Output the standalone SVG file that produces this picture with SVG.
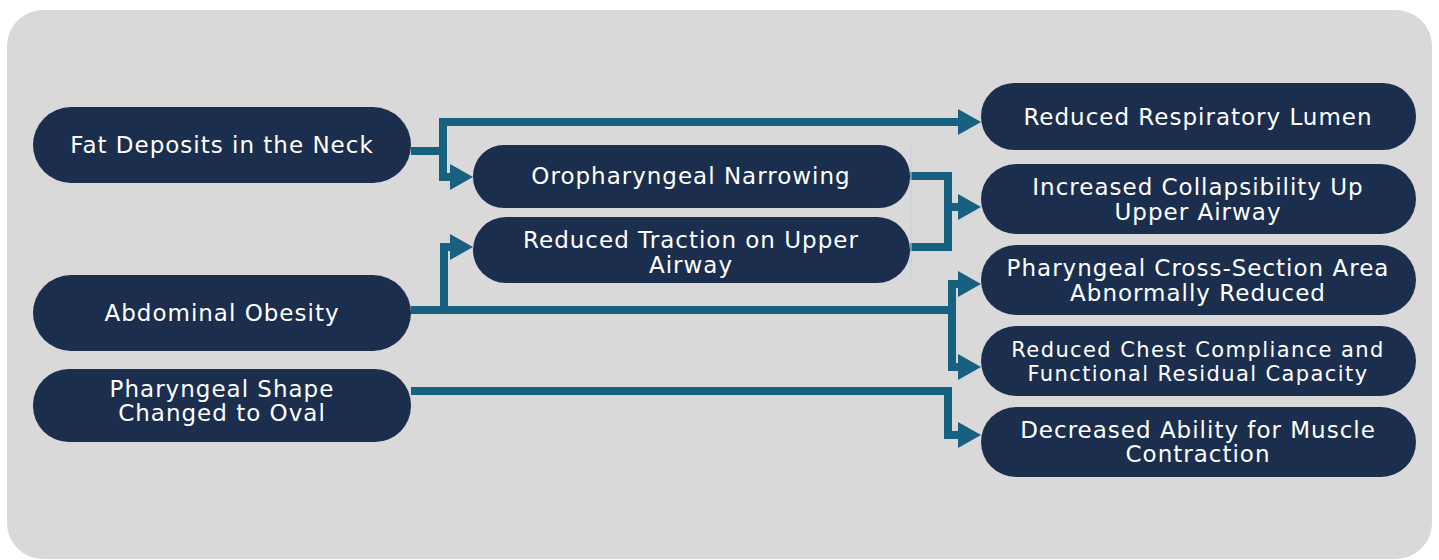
<svg xmlns="http://www.w3.org/2000/svg" width="1439" height="560" viewBox="0 0 1439 560">
  <style>
    .node { fill: #1c2e4e; }
    .lbl { fill: #ffffff; font-family: "DejaVu Sans", "Liberation Sans", sans-serif; font-size: 23px; letter-spacing: 1px; text-anchor: middle; }
    .sm { font-size: 21px; letter-spacing: 1.4px; }
    .conn { fill: none; stroke: #17607f; stroke-width: 8; stroke-linejoin: miter; }
  </style>
  <defs>
    <marker id="ah" markerUnits="userSpaceOnUse" markerWidth="23" markerHeight="26" refX="0" refY="13" orient="auto">
      <path d="M0,0 L23,13 L0,26 Z" fill="#17607f"/>
    </marker>
  </defs>

  <rect x="0" y="0" width="1439" height="560" fill="#ffffff"/>
  <rect x="7" y="10" width="1425" height="549" rx="36" fill="#d9d9d9"/>

  <!-- connectors -->
  <g id="connectors">
    <path class="conn" d="M411,151 H443 V122 H958" marker-end="url(#ah)"/>
    <path class="conn" d="M443,151 V177 H450" marker-end="url(#ah)"/>
    <path class="conn" d="M411,310 H444 V247 H450" marker-end="url(#ah)"/>
    <path class="conn" d="M444,310 H952 V284 H958" marker-end="url(#ah)"/>
    <path class="conn" d="M952,310 V367 H958" marker-end="url(#ah)"/>
    <path class="conn" d="M910,176 H948 V247 H910"/>
    <path class="conn" d="M948,207 H958" marker-end="url(#ah)"/>
    <path class="conn" d="M411,391 H948 V435 H958" marker-end="url(#ah)"/>
    <line x1="911" y1="142" x2="911" y2="280" stroke="#c5d0da" stroke-width="1"/>
  </g>

  <g id="fat-deposits">
    <rect class="node" x="33" y="107" width="378" height="76" rx="38"/>
    <text class="lbl" x="222" y="153">Fat Deposits in the Neck</text>
  </g>
  <g id="abdominal-obesity">
    <rect class="node" x="33" y="275" width="378" height="76" rx="38"/>
    <text class="lbl" x="222" y="321">Abdominal Obesity</text>
  </g>
  <g id="pharyngeal-shape">
    <rect class="node" x="33" y="369" width="378" height="73" rx="36"/>
    <text class="lbl" x="222" y="397">Pharyngeal Shape</text>
    <text class="lbl" x="222" y="421">Changed to Oval</text>
  </g>
  <g id="oropharyngeal-narrowing">
    <rect class="node" x="473" y="145" width="437" height="63" rx="31"/>
    <text class="lbl" x="691" y="184">Oropharyngeal Narrowing</text>
  </g>
  <g id="reduced-traction">
    <rect class="node" x="473" y="217" width="437" height="66" rx="33"/>
    <text class="lbl" x="691" y="248">Reduced Traction on Upper</text>
    <text class="lbl" x="691" y="273">Airway</text>
  </g>
  <g id="reduced-lumen">
    <rect class="node" x="981" y="83" width="435" height="67" rx="33"/>
    <text class="lbl" x="1198" y="125">Reduced Respiratory Lumen</text>
  </g>
  <g id="collapsibility">
    <rect class="node" x="981" y="164" width="435" height="70" rx="35"/>
    <text class="lbl" x="1198" y="195">Increased Collapsibility Up</text>
    <text class="lbl" x="1198" y="220">Upper Airway</text>
  </g>
  <g id="cross-section">
    <rect class="node" x="981" y="245" width="435" height="70" rx="35"/>
    <text class="lbl" x="1198" y="276">Pharyngeal Cross-Section Area</text>
    <text class="lbl" x="1198" y="301">Abnormally Reduced</text>
  </g>
  <g id="chest-compliance">
    <rect class="node" x="981" y="326" width="435" height="70" rx="35"/>
    <text class="lbl sm" x="1198" y="357">Reduced Chest Compliance and</text>
    <text class="lbl sm" x="1198" y="381">Functional Residual Capacity</text>
  </g>
  <g id="muscle-contraction">
    <rect class="node" x="981" y="407" width="435" height="70" rx="35"/>
    <text class="lbl" x="1198" y="438">Decreased Ability for Muscle</text>
    <text class="lbl" x="1198" y="462">Contraction</text>
  </g>
</svg>
